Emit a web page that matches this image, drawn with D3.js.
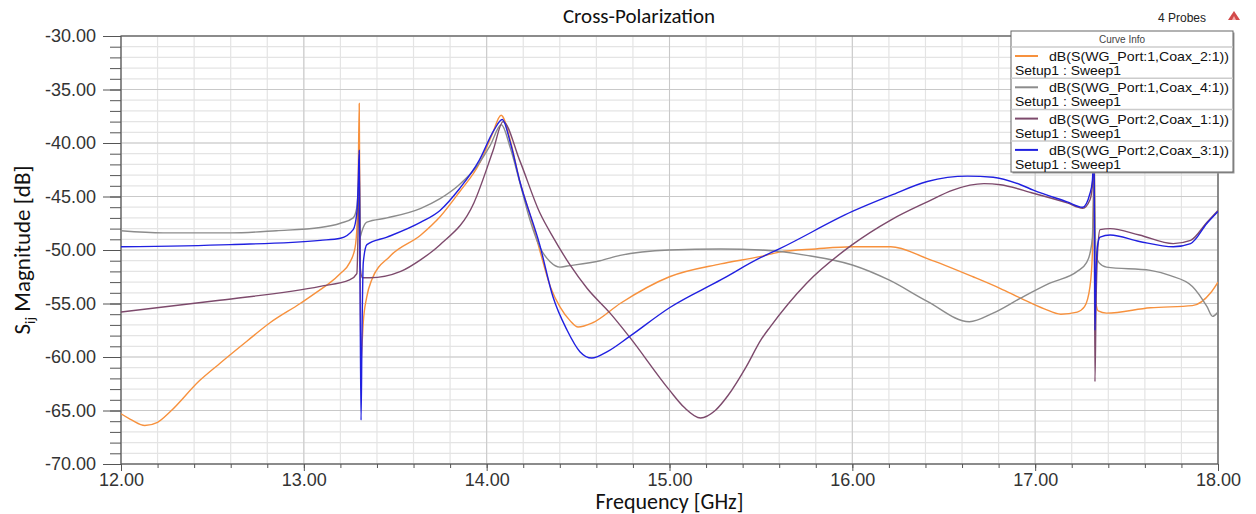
<!DOCTYPE html>
<html>
<head>
<meta charset="utf-8">
<script src="https://cdnjs.cloudflare.com/ajax/libs/d3/7.8.5/d3.min.js"></script>
<style>
  html, body { margin: 0; padding: 0; background: #fff; }
  #chart { width: 1256px; height: 514px; }
</style>
</head>
<body>
<div id="chart"></div>
<script>
// dB(S(WG_Port:1,Coax_2:1))
var coax2Freq = [12.00, 12.06, 12.13, 12.20, 12.27, 12.43, 12.54, 12.69, 12.815, 12.98, 13.09, 13.14, 13.20, 13.25, 13.28, 13.29, 13.297, 13.303, 13.307, 13.312, 13.318, 13.325, 13.344, 13.371, 13.47, 13.64, 13.745, 13.85, 13.964, 14.03, 14.079, 14.13, 14.18, 14.237, 14.29, 14.35, 14.40, 14.456, 14.50, 14.58, 14.73, 15.00, 15.28, 15.50, 15.60, 15.80, 16.00, 16.21, 16.41, 16.66, 16.81, 16.92, 17.05, 17.14, 17.23, 17.27, 17.30, 17.313, 17.319, 17.323, 17.327, 17.333, 17.345, 17.39, 17.63, 17.86, 17.96, 18.00];
var coax2Db = [-65.3, -65.9, -66.4, -66.1, -65.1, -62.2, -60.6, -58.5, -56.8, -55.0, -53.7, -53.1, -52.2, -51.2, -49.8, -48.0, -44.0, -36.3, -48.0, -60.6, -59.0, -56.8, -54.4, -52.8, -50.6, -48.6, -46.9, -44.6, -41.8, -39.2, -37.4, -39.8, -43.5, -46.7, -50.0, -53.5, -55.3, -56.6, -57.2, -56.8, -55.0, -52.5, -51.3, -50.6, -50.2, -49.9, -49.7, -49.7, -50.8, -52.5, -53.6, -54.5, -55.5, -56.0, -55.8, -55.3, -53.4, -50.3, -45.0, -41.0, -50.0, -55.0, -55.7, -55.9, -55.4, -55.2, -54.0, -53.0];

// dB(S(WG_Port:1,Coax_4:1))
var coax4Freq = [12.00, 12.23, 12.60, 12.85, 13.09, 13.20, 13.27, 13.29, 13.297, 13.303, 13.308, 13.315, 13.325, 13.345, 13.455, 13.64, 13.745, 13.85, 13.95, 14.02, 14.08, 14.13, 14.18, 14.237, 14.29, 14.347, 14.40, 14.44, 14.62, 14.73, 15.00, 15.28, 15.50, 15.75, 16.00, 16.20, 16.41, 16.64, 16.77, 16.92, 17.08, 17.23, 17.28, 17.30, 17.313, 17.319, 17.323, 17.328, 17.335, 17.35, 17.39, 17.63, 17.74, 17.86, 17.94, 17.97, 18.00];
var coax4Db = [-48.2, -48.4, -48.4, -48.2, -47.9, -47.5, -47.0, -46.0, -44.5, -42.5, -48.8, -48.4, -47.9, -47.4, -47.0, -46.1, -45.2, -43.9, -42.1, -40.2, -38.3, -40.5, -43.6, -47.2, -49.7, -51.1, -51.6, -51.5, -51.0, -50.5, -50.0, -49.9, -50.0, -50.5, -51.4, -52.8, -54.8, -56.7, -55.9, -54.5, -53.1, -52.0, -51.2, -50.3, -48.8, -45.0, -41.5, -48.0, -50.6, -51.2, -51.6, -51.9, -52.4, -53.4, -55.3, -56.2, -55.8];

// dB(S(WG_Port:2,Coax_1:1))
var coax1Freq = [12.00, 12.54, 13.09, 13.25, 13.29, 13.297, 13.303, 13.308, 13.32, 13.36, 13.53, 13.64, 13.745, 13.93, 14.035, 14.09, 14.18, 14.29, 14.37, 14.456, 14.55, 14.675, 14.78, 15.00, 15.08, 15.17, 15.25, 15.32, 15.42, 15.50, 15.55, 15.75, 16.00, 16.21, 16.41, 16.55, 16.72, 16.81, 16.99, 17.175, 17.26, 17.30, 17.313, 17.319, 17.322, 17.327, 17.333, 17.342, 17.355, 17.41, 17.57, 17.755, 17.85, 17.94, 18.00];
var coax1Db = [-55.8, -54.7, -53.4, -52.8, -52.2, -48.0, -41.5, -51.5, -52.6, -52.6, -52.0, -50.9, -49.5, -45.6, -40.7, -38.0, -41.6, -46.5, -49.0, -51.4, -53.6, -55.9, -58.1, -63.1, -64.7, -65.7, -65.0, -63.6, -60.9, -58.4, -57.2, -53.1, -49.5, -47.2, -45.5, -44.4, -43.8, -43.9, -44.7, -45.6, -46.1, -45.3, -44.0, -41.5, -40.0, -62.3, -55.0, -50.0, -48.1, -48.0, -48.6, -49.4, -49.1, -47.4, -46.3];

// dB(S(WG_Port:2,Coax_3:1))
var coax3Freq = [12.00, 12.60, 13.09, 13.20, 13.27, 13.29, 13.297, 13.303, 13.308, 13.313, 13.318, 13.325, 13.345, 13.455, 13.64, 13.745, 13.85, 13.96, 14.04, 14.085, 14.13, 14.18, 14.29, 14.363, 14.44, 14.51, 14.575, 14.66, 14.78, 15.00, 15.28, 15.50, 15.60, 16.00, 16.21, 16.41, 16.63, 16.77, 16.92, 16.99, 17.175, 17.26, 17.30, 17.313, 17.319, 17.322, 17.327, 17.333, 17.342, 17.355, 17.41, 17.57, 17.755, 17.85, 17.94, 18.00];
var coax3Db = [-49.7, -49.5, -49.1, -48.9, -48.1, -46.5, -44.0, -40.7, -55.0, -65.9, -58.0, -51.2, -49.5, -48.8, -47.4, -46.3, -44.3, -41.6, -38.8, -37.8, -40.0, -43.5, -49.5, -54.4, -57.5, -59.5, -60.1, -59.5, -58.1, -55.4, -52.8, -50.7, -49.9, -46.4, -44.9, -43.6, -43.1, -43.2, -43.9, -44.4, -45.5, -46.0, -44.7, -43.5, -41.0, -39.5, -57.5, -52.0, -49.5, -48.8, -48.6, -49.2, -49.7, -49.4, -47.5, -46.4];

var curveNames = ['dB(S(WG_Port:1,Coax_2:1))', 'dB(S(WG_Port:1,Coax_4:1))', 'dB(S(WG_Port:2,Coax_1:1))', 'dB(S(WG_Port:2,Coax_3:1))'];
var curveColors = ['#f7913d', '#8c8c8c', '#7d4a6c', '#2020e0'];
var xTicks = [12, 13, 14, 15, 16, 17, 18];
var yTicks = [-30, -35, -40, -45, -50, -55, -60, -65, -70];

var series = [
  { name: curveNames[0], color: curveColors[0], f: coax2Freq, v: coax2Db },
  { name: curveNames[1], color: curveColors[1], f: coax4Freq, v: coax4Db },
  { name: curveNames[2], color: curveColors[2], f: coax1Freq, v: coax1Db },
  { name: curveNames[3], color: curveColors[3], f: coax3Freq, v: coax3Db }
];

var width = 1256, height = 514;
var plotL = 121, plotR = 1218, plotT = 36, plotB = 464;

var svg = d3.select('#chart').append('svg')
  .attr('width', width)
  .attr('height', height);

var x = d3.scaleLinear().domain([12, 18]).range([plotL, plotR]);
var y = d3.scaleLinear().domain([-70, -30]).range([plotB, plotT]);
var fmt = d => d.toFixed(2);

// grid
var grid = svg.append('g');
grid.selectAll('.vminor')
  .data(d3.range(12, 18.001, 0.2))
  .enter().append('line')
    .attr('x1', d => x(d)).attr('x2', d => x(d))
    .attr('y1', plotT).attr('y2', plotB)
    .attr('stroke', '#e4e4e4').attr('stroke-width', 1.2);
grid.selectAll('.hminor')
  .data(d3.range(-70, -29.999, 1))
  .enter().append('line')
    .attr('x1', plotL).attr('x2', plotR)
    .attr('y1', d => y(d)).attr('y2', d => y(d))
    .attr('stroke', '#e4e4e4').attr('stroke-width', 1.2);
grid.selectAll('.vmajor')
  .data(xTicks)
  .enter().append('line')
    .attr('x1', d => x(d)).attr('x2', d => x(d))
    .attr('y1', plotT).attr('y2', plotB)
    .attr('stroke', '#c9c9c9');
grid.selectAll('.hmajor')
  .data(yTicks)
  .enter().append('line')
    .attr('x1', plotL).attr('x2', plotR)
    .attr('y1', d => y(d)).attr('y2', d => y(d))
    .attr('stroke', '#c9c9c9');

// axes
var xAxis = d3.axisBottom(x).tickValues(xTicks).tickFormat(fmt).tickSize(7).tickPadding(2);
var xMinor = d3.axisBottom(x).tickValues(d3.range(12, 18.001, 0.2)).tickFormat('').tickSize(4);
var yAxis = d3.axisLeft(y).tickValues(yTicks).tickFormat(fmt).tickSize(18).tickPadding(7);
var yMinor = d3.axisLeft(y).tickValues(d3.range(-70, -29.999, 1)).tickFormat('').tickSize(11);

function styleAxis(g) {
  g.select('.domain').remove();
  g.selectAll('line').attr('stroke', '#555');
  g.selectAll('text').attr('fill', '#333').attr('font-family', 'Liberation Sans, Arial, sans-serif').attr('font-size', 18);
}

svg.append('g').attr('transform', 'translate(0,' + plotB + ')').call(xMinor).call(styleAxis);
svg.append('g').attr('transform', 'translate(0,' + plotB + ')').call(xAxis).call(styleAxis);
svg.append('g').attr('transform', 'translate(' + plotL + ',0)').call(yMinor).call(styleAxis);
svg.append('g').attr('transform', 'translate(' + plotL + ',0)').call(yAxis).call(styleAxis);

// frame
svg.append('rect')
  .attr('x', plotL).attr('y', plotT)
  .attr('width', plotR - plotL).attr('height', plotB - plotT)
  .attr('fill', 'none').attr('stroke', '#555').attr('stroke-width', 1.2);

// curves
svg.append('clipPath').attr('id', 'plot-clip')
  .append('rect').attr('x', plotL).attr('y', plotT).attr('width', plotR - plotL).attr('height', plotB - plotT);

var line = d3.line()
  .x(d => x(d[0]))
  .y(d => y(d[1]))
  .curve(d3.curveMonotoneX);

svg.append('g').attr('clip-path', 'url(#plot-clip)')
  .selectAll('path')
  .data(series)
  .enter().append('path')
    .attr('d', s => line(s.f.map((f, i) => [f, s.v[i]])))
    .attr('fill', 'none')
    .attr('stroke', s => s.color)
    .attr('stroke-width', 1.4);

// titles
svg.append('text')
  .attr('x', 639).attr('y', 23)
  .attr('text-anchor', 'middle')
  .attr('font-family', 'Carlito, Lato, sans-serif')
  .attr('font-size', 21)
  .attr('fill', '#111')
  .text('Cross-Polarization');

svg.append('text')
  .attr('x', (plotL + plotR) / 2).attr('y', 509)
  .attr('text-anchor', 'middle')
  .attr('font-family', 'Carlito, Lato, sans-serif')
  .attr('font-size', 22)
  .attr('fill', '#111')
  .text('Frequency [GHz]');

var ylab = svg.append('text')
  .attr('transform', 'translate(30,' + ((plotT + plotB) / 2) + ') rotate(-90)')
  .attr('text-anchor', 'middle')
  .attr('font-family', 'Carlito, Lato, sans-serif')
  .attr('font-size', 23)
  .attr('fill', '#111');
ylab.append('tspan').text('S');
ylab.append('tspan').attr('font-size', 15).attr('dy', 5).text('ij');
ylab.append('tspan').attr('dy', -5).text(' Magnitude [dB]');

// probes label
svg.append('text')
  .attr('x', 1158).attr('y', 22)
  .attr('font-family', 'Liberation Sans, Arial, sans-serif')
  .attr('font-size', 12)
  .attr('fill', '#222')
  .text('4 Probes');
var tri = svg.append('g').attr('transform', 'translate(1234,20)');
tri.append('path').attr('d', 'M-6,0 L0,-9 L6,0 Z').attr('fill', '#d24a4a');
tri.append('path').attr('d', 'M-2,0 L0,-4 L2,0 Z').attr('fill', '#f6b0b0');

// legend
var lg = svg.append('g').attr('transform', 'translate(1011,31)');
lg.append('rect')
  .attr('x', 1.5).attr('y', 1.5).attr('width', 222).attr('height', 141)
  .attr('fill', '#999');
lg.append('rect')
  .attr('width', 222).attr('height', 141)
  .attr('fill', '#fff').attr('stroke', '#666').attr('stroke-width', 1);
lg.append('text')
  .attr('x', 111).attr('y', 12)
  .attr('text-anchor', 'middle')
  .attr('font-family', 'Liberation Sans, Arial, sans-serif')
  .attr('font-size', 10)
  .attr('fill', '#444')
  .text('Curve Info');

var entry = lg.selectAll('.entry')
  .data(series)
  .enter().append('g')
    .attr('transform', (d, i) => 'translate(0,' + (16 + i * 31.3) + ')');
entry.append('line')
  .attr('x1', 0).attr('x2', 222).attr('y1', 0).attr('y2', 0)
  .attr('stroke', '#ccc').attr('stroke-width', 1.5);
entry.append('line')
  .attr('x1', 4).attr('x2', 27).attr('y1', 9).attr('y2', 9)
  .attr('stroke', d => d.color).attr('stroke-width', 2);
entry.append('text')
  .attr('x', 38).attr('y', 14)
  .attr('font-family', 'Liberation Sans, Arial, sans-serif')
  .attr('font-size', 13)
  .attr('textLength', 180)
  .attr('lengthAdjust', 'spacingAndGlyphs')
  .attr('fill', '#111')
  .text(d => d.name);
entry.append('text')
  .attr('x', 4).attr('y', 28)
  .attr('font-family', 'Liberation Sans, Arial, sans-serif')
  .attr('font-size', 13)
  .attr('textLength', 106)
  .attr('lengthAdjust', 'spacingAndGlyphs')
  .attr('fill', '#111')
  .text('Setup1 : Sweep1');
</script>
</body>
</html>
